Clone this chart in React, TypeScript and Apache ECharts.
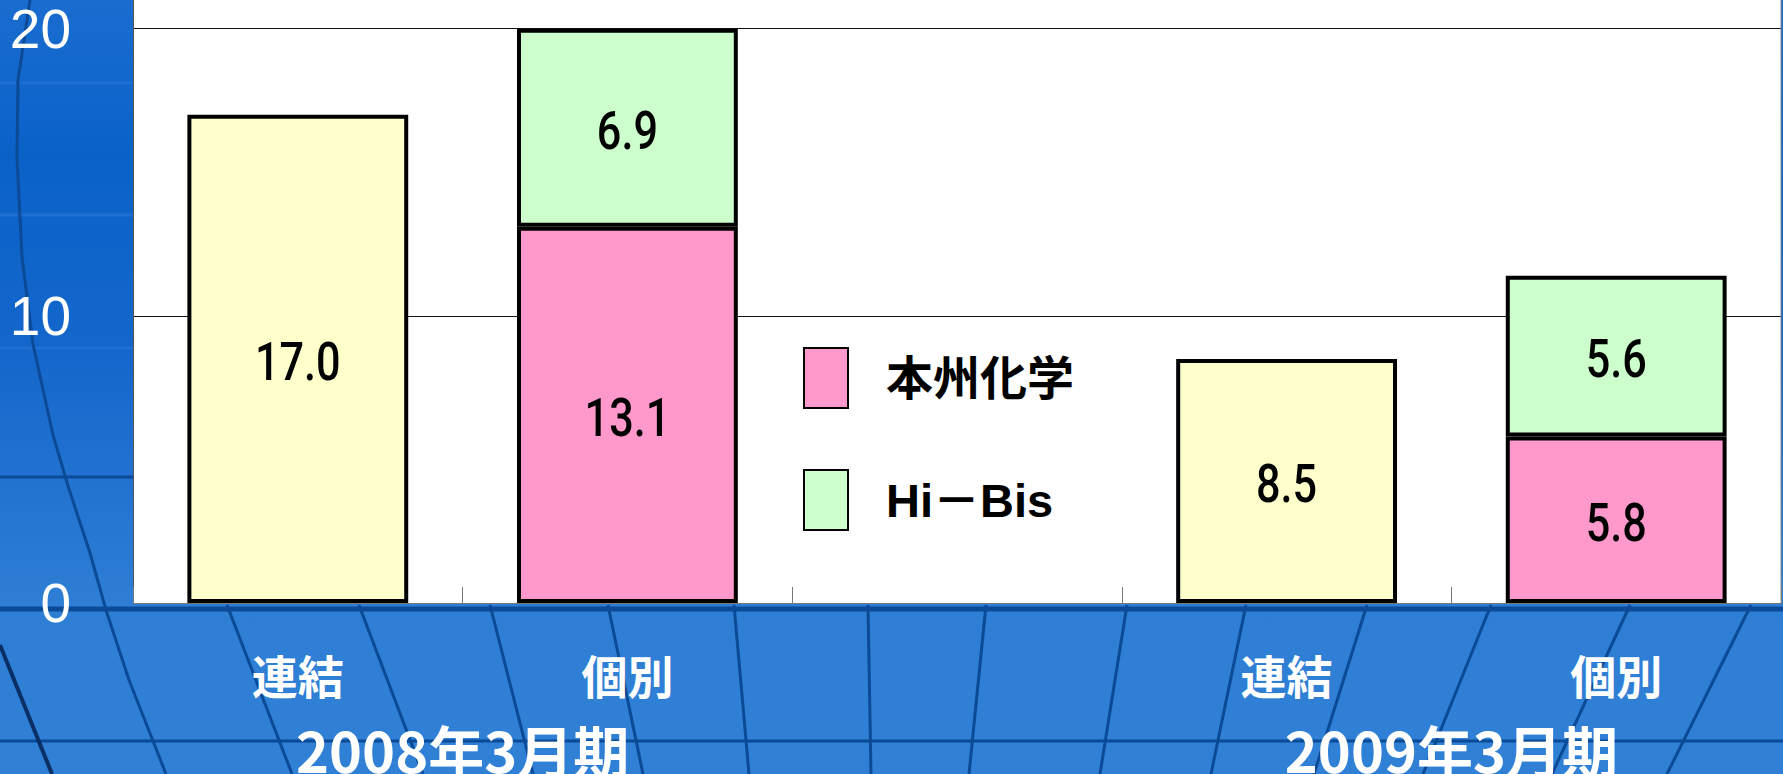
import React, { useEffect, useRef } from "react";
import * as echarts from "echarts";

// ---- data ----
const categories = ["連結", "個別", "", "連結", "個別"];
const consolidated = [17.0, "-", "-", 8.5, "-"];
const honshu = ["-", 13.1, "-", "-", 5.8];
const hibis = ["-", 6.9, "-", "-", 5.6];
const periodLabels = ["2008年3月期", "2009年3月期"];
const periodSpans = [
  [0, 1],
  [3, 4],
];
const seriesNames = ["連結", "本州化学", "Hi－Bis"];
const legendNames = ["本州化学", "Hi－Bis"];
const yMin = 0;
const yMax = 21;
const yInterval = 10;

// ---- decoration (background globe grid) ----
const DARK = "#0b4a96";
const decoCurve = [
  [30, 0], [18, 80], [17, 158], [22, 257], [33, 344], [53, 435], [68, 486],
  [90, 553], [106, 610], [129, 680], [166, 774],
];
const decoSegments = [
  [[227, 605], [292, 774]],
  [[359, 605], [423, 774]],
  [[490, 605], [533, 774]],
  [[608, 605], [643, 774]],
  [[734, 605], [749, 774]],
  [[868, 605], [871, 774]],
  [[986, 605], [969, 774]],
  [[1127, 605], [1100, 774]],
  [[1246, 605], [1211, 774]],
  [[1367, 605], [1314, 774]],
  [[1491, 605], [1423, 774]],
  [[1630, 605], [1552, 774]],
  [[1751, 605], [1667, 774]],
];

// label items [categoryIndex, stackBase, value] built from the series arrays
const stackedSeries = [consolidated, honshu, hibis];
const labelItems: number[][] = [];
categories.forEach((_, i) => {
  let base = 0;
  stackedSeries.forEach((arr) => {
    const v = arr[i];
    if (typeof v === "number") {
      labelItems.push([i, base, v]);
      base += v;
    }
  });
});

export default function App() {
  const ref = useRef<HTMLDivElement>(null);

  useEffect(() => {
    if (!ref.current) return;
    const chart = echarts.init(ref.current, null, { renderer: "svg" });
    const borderStyle = { borderColor: "#000", borderWidth: 4 };

    chart.setOption({
      animation: false,
      backgroundColor: {
        type: "linear",
        x: 0,
        y: 0,
        x2: 0,
        y2: 1,
        colorStops: [
          { offset: 0, color: "#1a6ccf" },
          { offset: 0.2, color: "#0a62c9" },
          { offset: 0.45, color: "#1466cb" },
          { offset: 0.78, color: "#2e7ed5" },
          { offset: 1, color: "#3080d6" },
        ],
      },
      grid: {
        left: 133,
        right: 2,
        top: 0,
        bottom: 171,
        show: true,
        backgroundColor: "#ffffff",
        borderWidth: 0,
      },
      legend: {
        data: legendNames,
        orient: "vertical",
        left: 798,
        top: 342,
        icon: "rect",
        itemWidth: 44,
        itemHeight: 60,
        itemGap: 60,
        itemStyle: { borderColor: "#000", borderWidth: 2 },
        textStyle: {
          color: "#000",
          fontSize: 47,
          fontWeight: "bold",
          fontFamily: "'Liberation Sans', 'Noto Sans CJK JP', sans-serif",
          padding: [0, 0, 0, 33],
        },
      },
      xAxis: {
        type: "category",
        data: categories,
        axisLine: { show: true, lineStyle: { color: "#777", width: 1 } },
        axisTick: {
          show: true,
          inside: true,
          length: 16,
          lineStyle: { color: "#777", width: 1 },
        },
        axisLabel: {
          color: "#fff",
          fontSize: 46,
          fontWeight: "bold",
          fontFamily: "'Noto Sans CJK JP', sans-serif",
          margin: 48,
          interval: 0,
        },
      },
      yAxis: {
        type: "value",
        min: yMin,
        max: yMax,
        interval: yInterval,
        axisLine: { show: true, lineStyle: { color: "#555", width: 1 } },
        axisTick: { show: false },
        splitLine: {
          show: true,
          showMaxLine: false,
          lineStyle: { color: "#111", width: 1 },
        },
        axisLabel: {
          color: "#fff",
          fontSize: 55,
          fontFamily: "'Liberation Sans', Arial, sans-serif",
          margin: 62,
          showMaxLabel: false,
          formatter: (v: number) => (v % yInterval === 0 ? String(v) : ""),
        },
      },
      series: [
        {
          name: seriesNames[0],
          type: "bar",
          stack: "total",
          barWidth: "67%",
          data: consolidated,
          itemStyle: { color: "#ffffcc", ...borderStyle },
        },
        {
          name: seriesNames[1],
          type: "bar",
          stack: "total",
          barWidth: "67%",
          data: honshu,
          itemStyle: { color: "#ff99cc", ...borderStyle },
        },
        {
          name: seriesNames[2],
          type: "bar",
          stack: "total",
          barWidth: "67%",
          data: hibis,
          itemStyle: { color: "#ccffcc", ...borderStyle },
        },
        {
          name: "values",
          type: "custom",
          coordinateSystem: "cartesian2d",
          z: 5,
          silent: true,
          data: labelItems,
          encode: { x: 0, y: 1 },
          renderItem: (params: any, api: any) => {
            const idx = api.value(0);
            const base = api.value(1);
            const v = api.value(2);
            const p = api.coord([idx, base + v / 2]);
            return {
              type: "text",
              x: p[0],
              y: p[1] + 3,
              scaleX: 0.8,
              style: {
                text: v.toFixed(1),
                fill: "#000",
                fontSize: 54,
                fontWeight: 500,
                fontFamily: "Roboto, 'Liberation Sans', Arial, sans-serif",
                align: "center",
                verticalAlign: "middle",
              },
            };
          },
        },
      ],
    });

    const elements: any[] = [];
    [83, 215, 348].forEach((y) =>
      elements.push({
        type: "line",
        silent: true,
        z: -1,
        shape: { x1: 0, y1: y, x2: 133, y2: y },
        style: { stroke: "#1f6fd2", lineWidth: 3 },
      })
    );
    elements.push({
      type: "line",
      silent: true,
      z: -1,
      shape: { x1: 0, y1: 477, x2: 133, y2: 477 },
      style: { stroke: DARK, lineWidth: 3 },
    });
    elements.push({
      type: "line",
      silent: true,
      z: -1,
      shape: { x1: 0, y1: 609, x2: 1783, y2: 609 },
      style: { stroke: DARK, lineWidth: 5 },
    });
    elements.push({
      type: "line",
      silent: true,
      z: -1,
      shape: { x1: 0, y1: 741, x2: 1783, y2: 741 },
      style: { stroke: DARK, lineWidth: 3 },
    });
    elements.push({
      type: "polyline",
      silent: true,
      z: -1,
      shape: { points: decoCurve },
      style: { stroke: DARK, lineWidth: 3, fill: null },
    });
    elements.push({
      type: "line",
      silent: true,
      z: -1,
      shape: { x1: 0, y1: 645, x2: 52, y2: 774 },
      style: { stroke: "#0a2f66", lineWidth: 4 },
    });
    decoSegments.forEach(([a, b]) =>
      elements.push({
        type: "line",
        silent: true,
        z: -1,
        shape: { x1: a[0], y1: a[1], x2: b[0], y2: b[1] },
        style: { stroke: DARK, lineWidth: 3 },
      })
    );
    elements.push({
      type: "line",
      silent: true,
      z: 5,
      shape: { x1: 1781, y1: 0, x2: 1781, y2: 603 },
      style: { stroke: "#888", lineWidth: 1 },
    });
    periodLabels.forEach((txt, i) => {
      const [a, b] = periodSpans[i];
      const xa = chart.convertToPixel({ xAxisIndex: 0 }, a) as number;
      const xb = chart.convertToPixel({ xAxisIndex: 0 }, b) as number;
      elements.push({
        type: "text",
        z: 10,
        x: (xa + xb) / 2,
        y: 748,
        style: {
          text: txt,
          fill: "#fff",
          fontSize: 56,
          fontWeight: "bold",
          fontFamily: "'Noto Sans CJK JP', sans-serif",
          textAlign: "center",
          textVerticalAlign: "middle",
        },
      });
    });
    chart.setOption({ graphic: { elements } });

    return () => chart.dispose();
  }, []);

  return (
    <div
      ref={ref}
      style={{ position: "fixed", left: 0, top: 0, width: 1783, height: 774 }}
    />
  );
}
